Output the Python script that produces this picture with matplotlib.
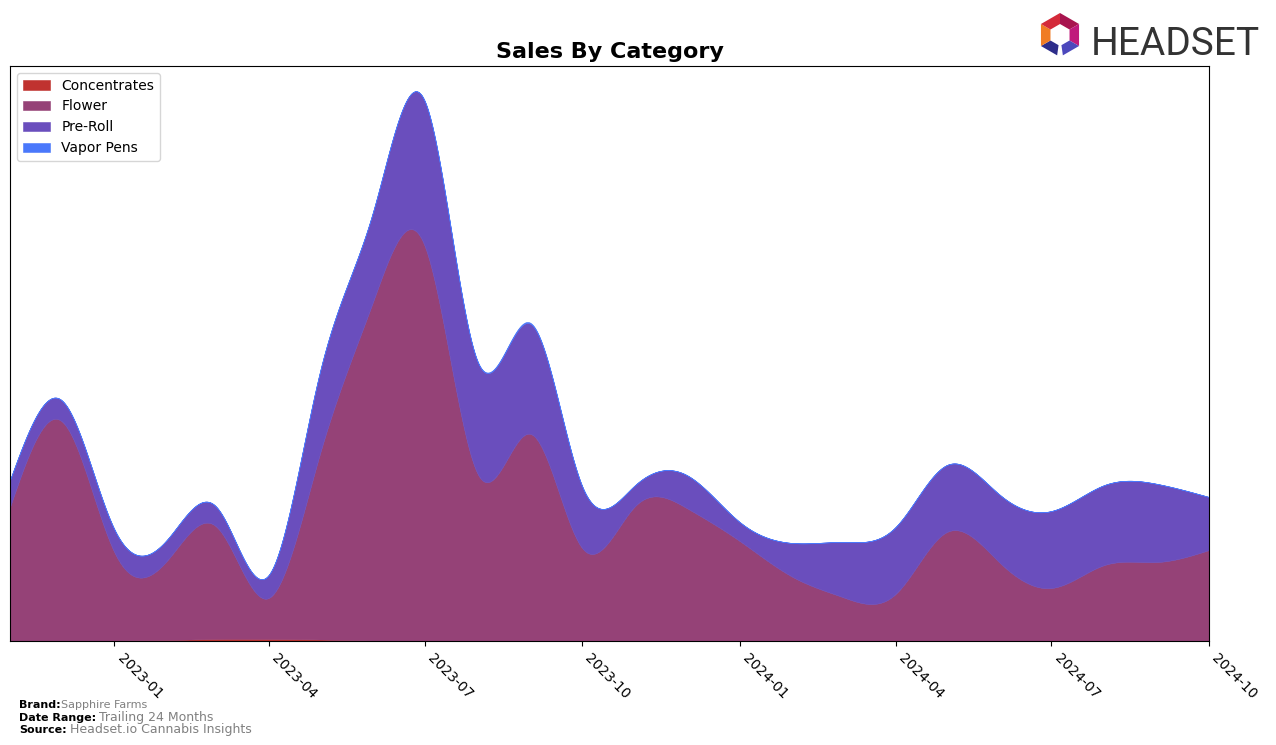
import numpy as np
import pandas as pd
import matplotlib
matplotlib.use("Agg")
import matplotlib.pyplot as plt
import matplotlib.dates as mdates
from matplotlib.patches import Polygon

# ---------------- data (monthly, arbitrary units) ----------------
months = pd.date_range("2022-11-01", "2024-10-01", freq="MS")
categories = ["Concentrates", "Flower", "Pre-Roll", "Vapor Pens"]
concentrates = [0, 0, 0.5, 1, 2, 2, 1.5, 0.5, 0.5, 0.3, 0, 0, 0, 0, 0, 0, 0, 0, 0, 0, 0, 0, 0, 0]
flower = [134, 220, 88, 80, 113, 41, 186, 339, 395, 167, 207, 93,
          135, 133, 100, 64, 44, 47, 109, 78, 53, 76, 79, 91]
preroll = [27, 21, 23, 21, 20, 23, 82, 90, 145, 112, 110, 62,
           21, 33, 19, 34, 55, 67, 67, 68, 77, 80, 78, 53]
vapor = [0, 0, 0, 0, 0, 0, 0, 0, 0, 0.5, 1, 0, 0, 0, 0, 0, 0, 0, 0, 0, 0, 0, 0, 0]
colors = ["#c0322f", "#954277", "#6a4ebd", "#4a78fb"]
tick_labels = ["2023-01", "2023-04", "2023-07", "2023-10", "2024-01", "2024-04", "2024-07", "2024-10"]


def natural_spline(x, y, xs):
    x = np.asarray(x, float); y = np.asarray(y, float)
    n = len(x)
    h = np.diff(x)
    A = np.zeros((n, n)); b = np.zeros(n)
    A[0, 0] = 1; A[-1, -1] = 1
    for i in range(1, n - 1):
        A[i, i - 1] = h[i - 1]
        A[i, i] = 2 * (h[i - 1] + h[i])
        A[i, i + 1] = h[i]
        b[i] = 3 * ((y[i + 1] - y[i]) / h[i] - (y[i] - y[i - 1]) / h[i - 1])
    c = np.linalg.solve(A, b)
    bb = (np.diff(y) / h) - h * (2 * c[:-1] + c[1:]) / 3
    d = np.diff(c) / (3 * h)
    idx = np.clip(np.searchsorted(x, xs) - 1, 0, n - 2)
    dx = xs - x[idx]
    return y[idx] + bb[idx] * dx + c[idx] * dx ** 2 + d[idx] * dx ** 3


x = mdates.date2num(months)
xs = np.linspace(x[0], x[-1], 1200)
series = [concentrates, flower, preroll, vapor]
smooth = [np.clip(natural_spline(x, s, xs), 0, None) for s in series]

fig = plt.figure(figsize=(12.76, 7.45), dpi=100)
ax = fig.add_axes([10 / 1276, 1 - 641 / 745, 1199 / 1276, 575 / 745])

base = np.zeros_like(xs)
for name, s, c in zip(categories, smooth, colors):
    ax.fill_between(xs, base, base + s, color=c, label=name, linewidth=0.4)
    base = base + s

ax.set_xlim(x[0], x[-1])
ax.set_ylim(0, 575)
ax.set_yticks([])
ticks = [mdates.date2num(pd.Timestamp(t + "-01")) for t in tick_labels]
ax.set_xticks(ticks)
ax.set_xticklabels(tick_labels, rotation=-45, ha="left", fontsize=10)
ax.set_title("Sales By Category", fontsize=16, fontweight="bold", pad=6)
ax.legend(loc="upper left", fontsize=10, frameon=True, borderaxespad=0.5)

# footer
fig.text(19 / 1276, 1 - 708 / 745, "Brand:", fontsize=8, fontweight="bold", va="baseline")
fig.text(61 / 1276, 1 - 708 / 745, "Sapphire Farms", fontsize=8, color="gray", va="baseline")
fig.text(19 / 1276, 1 - 721 / 745, "Date Range:", fontsize=8, fontweight="bold", va="baseline")
fig.text(99 / 1276, 1 - 721 / 745, "Trailing 24 Months", fontsize=9, color="gray", va="baseline")
fig.text(19 / 1276, 1 - 733 / 745, "Source:", fontsize=8, fontweight="bold", va="baseline")
fig.text(70 / 1276, 1 - 733 / 745, "Headset.io Cannabis Insights", fontsize=9, color="gray", va="baseline")

# logo
fig.text(1091 / 1276, 1 - 55 / 745, "HEADSET", fontsize=28, color="#333333",
         family="Roboto", va="baseline", ha="left")
cx, cy = 1060, 35
ro, ri = 22, 11


def hexpt(r, t):
    # point on hexagon of radius r at parameter t (vertex k at t=k, vertex 0 at top)
    k = int(np.floor(t)) % 6
    f = t - np.floor(t)
    a0 = np.deg2rad(90 - 60 * k)
    a1 = np.deg2rad(90 - 60 * (k + 1))
    p0 = np.array([cx + r * np.cos(a0), cy - r * np.sin(a0)])
    p1 = np.array([cx + r * np.cos(a1), cy - r * np.sin(a1)])
    return p0 + f * (p1 - p0)


segs = [(0, 1, "#a8154f"), (1, 2, "#c01a7c"), (2, 2.85, "#4c48bc"),
        (3.15, 4, "#2d2d8a"), (4, 5, "#f07c24"), (5, 6, "#d42a3a")]
for t0, t1, col in segs:
    poly = [hexpt(ro, t0), hexpt(ro, t1), hexpt(ri, t1), hexpt(ri, t0)]
    poly = [(p[0] / 1276, 1 - p[1] / 745) for p in poly]
    fig.patches.append(Polygon(poly, closed=True, facecolor=col, edgecolor="none",
                               transform=fig.transFigure, figure=fig))

fig.savefig("out.png", dpi=100)
